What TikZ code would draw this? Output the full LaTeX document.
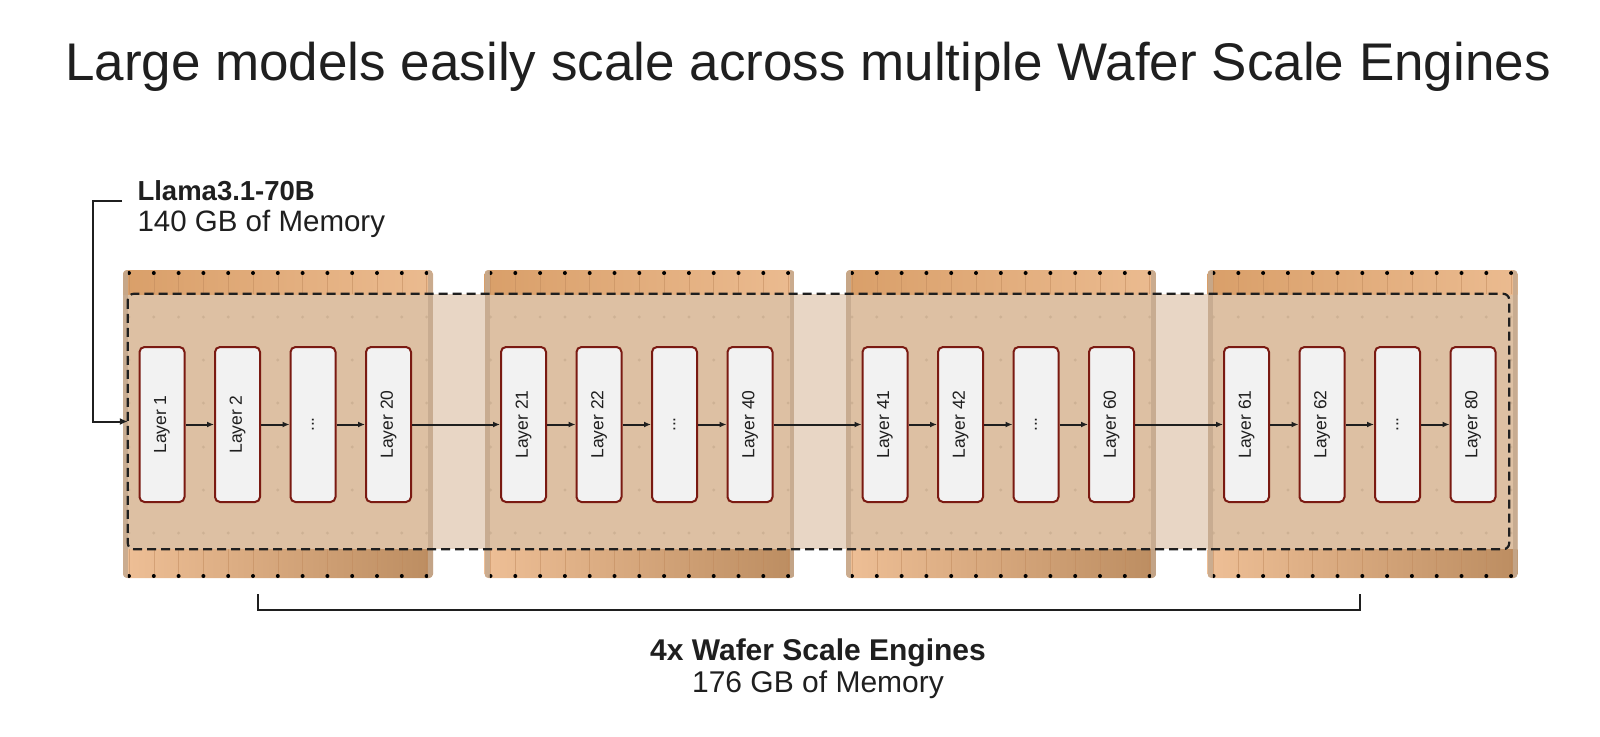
\documentclass[tikz,border=0pt]{standalone}
\usepackage{fontspec}
\setmainfont{Liberation Sans}
\usetikzlibrary{positioning, arrows.meta, calc}

\definecolor{ink}{HTML}{1F1F1F}
\definecolor{bandtopl}{HTML}{D99F69}
\definecolor{bandtopr}{HTML}{EBBB90}
\definecolor{bandbotl}{HTML}{EEBF96}
\definecolor{bandbotr}{HTML}{BC8D61}
\definecolor{bandline}{HTML}{C08A5C}
\definecolor{waferbody}{HTML}{DDC0A3}
\definecolor{between}{HTML}{E8D6C5}
\definecolor{edgestrip}{HTML}{C5A98E}
\definecolor{griddot}{HTML}{CDB194}
\definecolor{layerred}{HTML}{7A1A12}
\definecolor{layerfill}{HTML}{F2F2F2}

\begin{document}
\begin{tikzpicture}[
    x = 1pt, y = -1pt,
    every node/.style = {font = \fontsize{17.5}{21}\selectfont, text = ink},
    title/.style      = {anchor = base, font = \fontsize{53}{62}\selectfont},
    caption/.style    = {anchor = base west, font = \fontsize{29.5}{34}\selectfont},
    capbold/.style    = {anchor = base west, font = \fontsize{27.5}{34}\selectfont\bfseries},
    layer/.style      = {draw = layerred, line width = 2pt, rounded corners = 5pt, fill = layerfill,
                         minimum width = 45pt, minimum height = 155pt, inner sep = 0pt},
    modelfill/.style  = {fill = between, minimum width = 1381pt, minimum height = 255pt, inner sep = 0pt},
    modeledge/.style  = {draw = ink, line width = 2.2pt, dash pattern = on 9pt off 5pt, rounded corners = 6pt},
    arr/.style        = {-{Latex[length=7pt, width=6pt]}, line width = 2pt, draw = ink},
    inarr/.style      = {-{Latex[length=8pt, width=7pt]}, line width = 2pt, draw = ink},
    bracket/.style    = {line width = 1.8pt, draw = ink},
]
\useasboundingbox (0,0) rectangle (1600,736);

% ---------- title and model label ----------
\node[title] (title) at (808,80) {Large models easily scale across multiple Wafer Scale Engines};
\node[capbold] (llama)    at (134,200) {Llama3.1-70B};
\node[caption] (llamamem) at (134,231) {140 GB of Memory};

% ---------- the model spans all four wafers ----------
\node[modelfill] (model) at (818.5,421.5) {};

% ---------- wafers ----------
\foreach \i in {0,...,3} {
    \pgfmathsetmacro{\wx}{123+361.5*\i}
    \begin{scope}
        \clip[rounded corners=4pt] (\wx,270) rectangle ++(310,308);
        \fill[waferbody] (\wx,294) rectangle ++(310,255);
        \shade[left color=bandtopl, right color=bandtopr] (\wx,270) rectangle ++(310,24);
        \shade[left color=bandbotl, right color=bandbotr] (\wx,549) rectangle ++(310,29);
        \foreach \k in {0,...,12} {
            \draw[bandline, line width=0.6pt, opacity=0.5] (\wx+6+24.8*\k,270) -- ++(0,24);
            \draw[bandline, line width=0.6pt, opacity=0.5] (\wx+6+24.8*\k,549) -- ++(0,29);
            \fill[black] (\wx+6+24.8*\k,273) circle (2pt);
            \fill[black] (\wx+6+24.8*\k,576) circle (2pt);
            \foreach \r in {317,360,403,447,490,533}
                \fill[griddot] (\wx+6+24.8*\k,\r) circle (1.6pt);
        }
        \fill[edgestrip, opacity=0.85] (\wx,270) rectangle ++(5,308);
        \fill[edgestrip, opacity=0.85] (\wx+305,270) rectangle ++(5,308);
    \end{scope}
}

\draw[modeledge] (model.north west) rectangle (model.south east);

% ---------- layers ----------
\node[layer] (l1)  at (162,424.5)    {\rotatebox{90}{Layer 1}};
\node[layer] (l2)  at (237.5,424.5)  {\rotatebox{90}{Layer 2}};
\node[layer] (ld1) at (313,424.5)    {\rotatebox{90}{...}};
\node[layer] (l20) at (388.5,424.5)  {\rotatebox{90}{Layer 20}};

\node[layer] (l21) at (523.5,424.5)  {\rotatebox{90}{Layer 21}};
\node[layer] (l22) at (599,424.5)    {\rotatebox{90}{Layer 22}};
\node[layer] (ld2) at (674.5,424.5)  {\rotatebox{90}{...}};
\node[layer] (l40) at (750,424.5)    {\rotatebox{90}{Layer 40}};

\node[layer] (l41) at (885,424.5)    {\rotatebox{90}{Layer 41}};
\node[layer] (l42) at (960.5,424.5)  {\rotatebox{90}{Layer 42}};
\node[layer] (ld3) at (1036,424.5)   {\rotatebox{90}{...}};
\node[layer] (l60) at (1111.5,424.5) {\rotatebox{90}{Layer 60}};

\node[layer] (l61) at (1246.5,424.5) {\rotatebox{90}{Layer 61}};
\node[layer] (l62) at (1322,424.5)   {\rotatebox{90}{Layer 62}};
\node[layer] (ld4) at (1397.5,424.5) {\rotatebox{90}{...}};
\node[layer] (l80) at (1473,424.5)   {\rotatebox{90}{Layer 80}};

% ---------- layer chain ----------
\draw[arr] (l1) -- (l2);
\draw[arr] (l2) -- (ld1);
\draw[arr] (ld1) -- (l20);
\draw[arr] (l20) -- (l21);
\draw[arr] (l21) -- (l22);
\draw[arr] (l22) -- (ld2);
\draw[arr] (ld2) -- (l40);
\draw[arr] (l40) -- (l41);
\draw[arr] (l41) -- (l42);
\draw[arr] (l42) -- (ld3);
\draw[arr] (ld3) -- (l60);
\draw[arr] (l60) -- (l61);
\draw[arr] (l61) -- (l62);
\draw[arr] (l62) -- (ld4);
\draw[arr] (ld4) -- (l80);

% ---------- model feeds into the wafers ----------
\coordinate (llamatick) at (122,201);
\draw[inarr] (llamatick) -- ++(-29,0) |- (model.west);

% ---------- wafer bracket ----------
\coordinate (brl) at (258,594);
\coordinate (brr) at (1360,594);
\draw[bracket] (brl) -- ++(0,16) -| (brr);

\node[anchor=base, font=\fontsize{30}{34}\selectfont\bfseries] (wse)    at (818,660) {4x Wafer Scale Engines};
\node[anchor=base, font=\fontsize{30}{34}\selectfont]         (wsemem) at (818,692) {176 GB of Memory};

\end{tikzpicture}
\end{document}
